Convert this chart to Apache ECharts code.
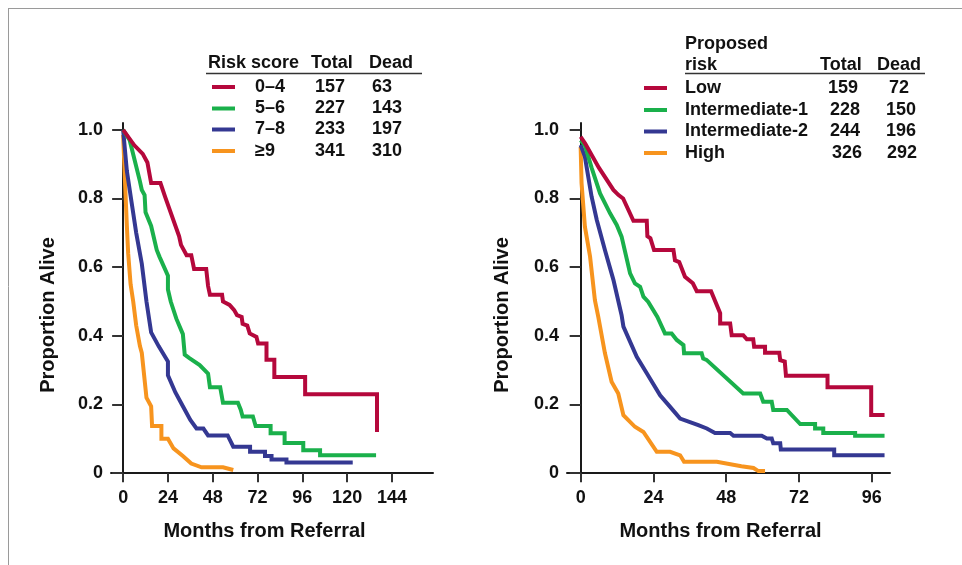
<!DOCTYPE html>
<html>
<head>
<meta charset="utf-8">
<script src="https://cdn.jsdelivr.net/npm/echarts@6/dist/echarts.min.js"></script>
<style>
html,body{margin:0;padding:0;background:#fff;}
#chart{width:962px;height:565px;}
</style>
</head>
<body>
<div id="chart"></div>
<script>
// ---- Data: [month, proportion alive] ----
const monthTicksLeft = [0, 24, 48, 72, 96, 120, 144];
const monthTicksRight = [0, 24, 48, 72, 96];
const propTicks = [0, 0.2, 0.4, 0.6, 0.8, 1.0];

const leftNames = ['0\u20134', '5\u20136', '7\u20138', '\u22659'];
const leftTotals = ['157', '227', '233', '341'];
const leftDead = ['63', '143', '197', '310'];

const rightNames = ['Low', 'Intermediate-1', 'Intermediate-2', 'High'];
const rightTotals = ['159', '228', '244', '326'];
const rightDead = ['72', '150', '196', '292'];

const colors = ['#b5083c', '#1ab04b', '#343892', '#f7941e'];

const leftScore04 = [[0,1.0],[6,0.955],[10.5,0.93],[13,0.905],[15,0.845],[20,0.845],[22.5,0.805],[30,0.69],[31,0.665],[34,0.635],[36.5,0.635],[38,0.595],[44.5,0.595],[45.5,0.545],[46.5,0.52],[53,0.52],[53.5,0.5],[57,0.49],[59.5,0.475],[61,0.46],[63.5,0.455],[64,0.435],[66.5,0.43],[67.8,0.407],[71.4,0.397],[72.3,0.378],[76.8,0.378],[76.8,0.33],[81,0.33],[81,0.28],[97.5,0.28],[97.5,0.23],[136,0.23],[136,0.12]];
const leftScore56 = [[0,1.0],[3.5,0.97],[9,0.85],[10,0.825],[11.5,0.81],[12,0.76],[15,0.72],[18,0.65],[19.5,0.63],[24,0.575],[24,0.535],[25.5,0.5],[28.5,0.45],[32,0.405],[33,0.345],[35.5,0.335],[41,0.315],[45.5,0.29],[46.5,0.25],[52,0.25],[53.5,0.205],[61.5,0.205],[63,0.185],[64,0.165],[69.5,0.165],[71,0.137],[79,0.137],[79,0.116],[86.5,0.116],[86.5,0.088],[96.5,0.088],[96.5,0.067],[105.5,0.067],[105.5,0.052],[135.5,0.052]];
const leftScore78 = [[0,1.0],[2,0.88],[4.5,0.79],[7,0.70],[10,0.61],[12.5,0.50],[15,0.41],[19,0.37],[24,0.325],[24,0.285],[28,0.235],[31.5,0.2],[36,0.155],[39.3,0.13],[43,0.13],[45.5,0.11],[56,0.11],[59,0.077],[68,0.077],[68,0.062],[76,0.062],[76,0.05],[79.5,0.05],[79.5,0.04],[87.5,0.04],[87.5,0.031],[123,0.031]];
const leftScore9 = [[0,0.985],[1,0.85],[2,0.72],[2.7,0.64],[4,0.55],[5.4,0.50],[7,0.43],[9,0.37],[10,0.35],[12.5,0.22],[15,0.195],[15.5,0.137],[20.5,0.137],[20.5,0.10],[24,0.10],[27,0.072],[32,0.05],[36.5,0.028],[42,0.017],[53.5,0.017],[59,0.009]];

const rightLow = [[0,0.98],[1.5,0.96],[6,0.89],[10.8,0.825],[12.5,0.81],[14,0.80],[17.4,0.735],[21.8,0.735],[22,0.69],[23,0.684],[24.2,0.65],[30.6,0.65],[31.1,0.62],[32.5,0.615],[34.4,0.572],[37,0.553],[38.3,0.53],[43,0.53],[46,0.466],[46,0.436],[49.3,0.436],[49.8,0.402],[53.6,0.402],[54.8,0.39],[56.9,0.39],[57.2,0.368],[60.8,0.368],[60.8,0.351],[65.5,0.351],[65.8,0.329],[67.3,0.325],[67.7,0.284],[81.4,0.284],[81.4,0.25],[95.8,0.25],[95.8,0.169],[100.2,0.169]];
const rightInt1 = [[0,0.97],[1.4,0.955],[3.6,0.89],[6.4,0.815],[9.7,0.757],[11.9,0.723],[13.5,0.689],[16.3,0.582],[17.9,0.553],[19.6,0.543],[20.7,0.514],[22.3,0.499],[25.3,0.455],[27.8,0.407],[30,0.407],[31.7,0.388],[33.9,0.373],[34.1,0.349],[39.9,0.349],[40.4,0.334],[41.5,0.33],[53.6,0.232],[59.2,0.232],[60.2,0.208],[63,0.208],[63.5,0.184],[68,0.184],[72.4,0.143],[77.3,0.143],[77.3,0.13],[80,0.13],[80,0.117],[90.5,0.117],[90.5,0.109],[100.2,0.109]];
const rightInt2 = [[0,0.956],[1.4,0.922],[2.5,0.864],[3.6,0.806],[5.3,0.738],[8,0.65],[10.8,0.563],[13.5,0.46],[14.1,0.427],[18.5,0.339],[21.8,0.291],[26.2,0.227],[29.5,0.193],[32.8,0.159],[38.8,0.14],[41.6,0.13],[44.3,0.117],[49.3,0.117],[50.4,0.109],[59.7,0.109],[61.4,0.101],[63,0.101],[63.5,0.087],[65.8,0.087],[66,0.069],[83.6,0.069],[83.6,0.052],[100.2,0.052]];
const rightHigh = [[0,0.95],[0.3,0.845],[1.4,0.718],[3.1,0.631],[4.7,0.504],[5.8,0.456],[8,0.35],[10.2,0.266],[12.4,0.232],[14.1,0.169],[17.9,0.135],[20.7,0.12],[25.1,0.062],[29.5,0.062],[32.8,0.052],[34.1,0.033],[44.9,0.033],[53,0.02],[57,0.015],[58.6,0.006],[60.8,0.006]];

const leftSeries = [leftScore04, leftScore56, leftScore78, leftScore9];
const rightSeries = [rightLow, rightInt1, rightInt2, rightHigh];

// ---- Chart ----
const FONT = 'Liberation Sans, Arial, Helvetica, sans-serif';
const chart = echarts.init(document.getElementById('chart'), null, {renderer: 'canvas'});

function xAxisDef(gridIndex, min, max, ticks) {
  return {
    type: 'value', gridIndex: gridIndex, min: min, max: max,
    axisLine: {show: true, onZero: true, lineStyle: {color: '#1a1a1a', width: 2}},
    axisTick: {show: true, customValues: ticks, length: 9, lineStyle: {color: '#333', width: 2}},
    axisLabel: {show: true, customValues: ticks, margin: 9, color: '#111',
      fontFamily: FONT, fontWeight: 'bold', fontSize: 18},
    splitLine: {show: false}
  };
}
function yAxisDef(gridIndex) {
  return {
    type: 'value', gridIndex: gridIndex, min: -0.02, max: 1.02,
    axisLine: {show: true, onZero: true, lineStyle: {color: '#1a1a1a', width: 2}},
    axisTick: {show: true, customValues: propTicks, length: 11, lineStyle: {color: '#333', width: 2}},
    axisLabel: {show: true, customValues: propTicks, margin: 8, color: '#111',
      fontFamily: FONT, fontWeight: 'bold', fontSize: 18,
      formatter: function (v) { return v === 0 ? '0' : v.toFixed(1); }},
    splitLine: {show: false}
  };
}

const series = [];
leftSeries.forEach(function (d, i) {
  series.push({type: 'line', xAxisIndex: 0, yAxisIndex: 0, data: d, showSymbol: false,
    lineStyle: {color: colors[i], width: 4, join: 'miter'}, itemStyle: {color: colors[i]},
    animation: false, z: 10 - i});
});
rightSeries.forEach(function (d, i) {
  series.push({type: 'line', xAxisIndex: 1, yAxisIndex: 1, data: d, showSymbol: false,
    lineStyle: {color: colors[i], width: 4, join: 'miter'}, itemStyle: {color: colors[i]},
    animation: false, z: 10 - i});
});

function txt(text, x, y, size, align, extra) {
  const el = {type: 'text', x: x, y: y, silent: true,
    style: {text: text, fill: '#111', font: 'bold ' + size + 'px ' + FONT,
      align: align || 'left', verticalAlign: 'middle'}};
  if (extra) Object.assign(el, extra);
  return el;
}
function seg(x1, y1, x2, y2, color, w) {
  return {type: 'line', silent: true, shape: {x1: x1, y1: y1, x2: x2, y2: y2},
    style: {stroke: color, lineWidth: w}};
}

const graphics = [];
// frame
graphics.push(seg(8, 8.5, 962, 8.5, '#9a9a9a', 1));
graphics.push(seg(8.5, 8, 8.5, 565, '#9a9a9a', 1));

// left legend table
graphics.push(txt('Risk score', 208, 63, 18));
graphics.push(txt('Total', 311, 63, 18));
graphics.push(txt('Dead', 369, 63, 18));
graphics.push(seg(206, 73.5, 422, 73.5, '#333', 1.5));
const leftRowsY = [87, 108.5, 129.5, 151];
leftNames.forEach(function (n, i) {
  graphics.push(seg(212, leftRowsY[i], 235, leftRowsY[i], colors[i], 4));
  graphics.push(txt(n, 255, leftRowsY[i], 18));
  graphics.push(txt(leftTotals[i], 315, leftRowsY[i], 18));
  graphics.push(txt(leftDead[i], 372, leftRowsY[i], 18));
});

// right legend table
graphics.push(txt('Proposed', 685, 44, 18));
graphics.push(txt('risk', 685, 65, 18));
graphics.push(txt('Total', 820, 65, 18));
graphics.push(txt('Dead', 877, 65, 18));
graphics.push(seg(685, 73.5, 925, 73.5, '#333', 1.5));
const rightRowsY = [88, 110, 131.5, 153];
const rightTotRight = [858, 860, 860, 862];
const rightDeadRight = [909, 916, 916, 917];
rightNames.forEach(function (n, i) {
  graphics.push(seg(644, rightRowsY[i], 667, rightRowsY[i], colors[i], 4));
  graphics.push(txt(n, 685, rightRowsY[i], 18));
  graphics.push(txt(rightTotals[i], rightTotRight[i], rightRowsY[i], 18, 'right'));
  graphics.push(txt(rightDead[i], rightDeadRight[i], rightRowsY[i], 18, 'right'));
});

// axis titles
graphics.push(txt('Proportion Alive', 48, 315, 20, 'center', {rotation: Math.PI / 2}));
graphics.push(txt('Proportion Alive', 502, 315, 20, 'center', {rotation: Math.PI / 2}));
graphics.push(txt('Months from Referral', 264.5, 531, 20, 'center'));
graphics.push(txt('Months from Referral', 720.5, 531, 20, 'center'));

chart.setOption({
  backgroundColor: '#ffffff',
  animation: false,
  grid: [
    {left: 111, top: 123, width: 322, height: 357, containLabel: false},
    {left: 567, top: 123, width: 323, height: 357, containLabel: false}
  ],
  xAxis: [xAxisDef(0, -6.5, 166, monthTicksLeft), xAxisDef(1, -4.5, 102, monthTicksRight)],
  yAxis: [yAxisDef(0), yAxisDef(1)],
  series: series,
  graphic: graphics
});
</script>
</body>
</html>
